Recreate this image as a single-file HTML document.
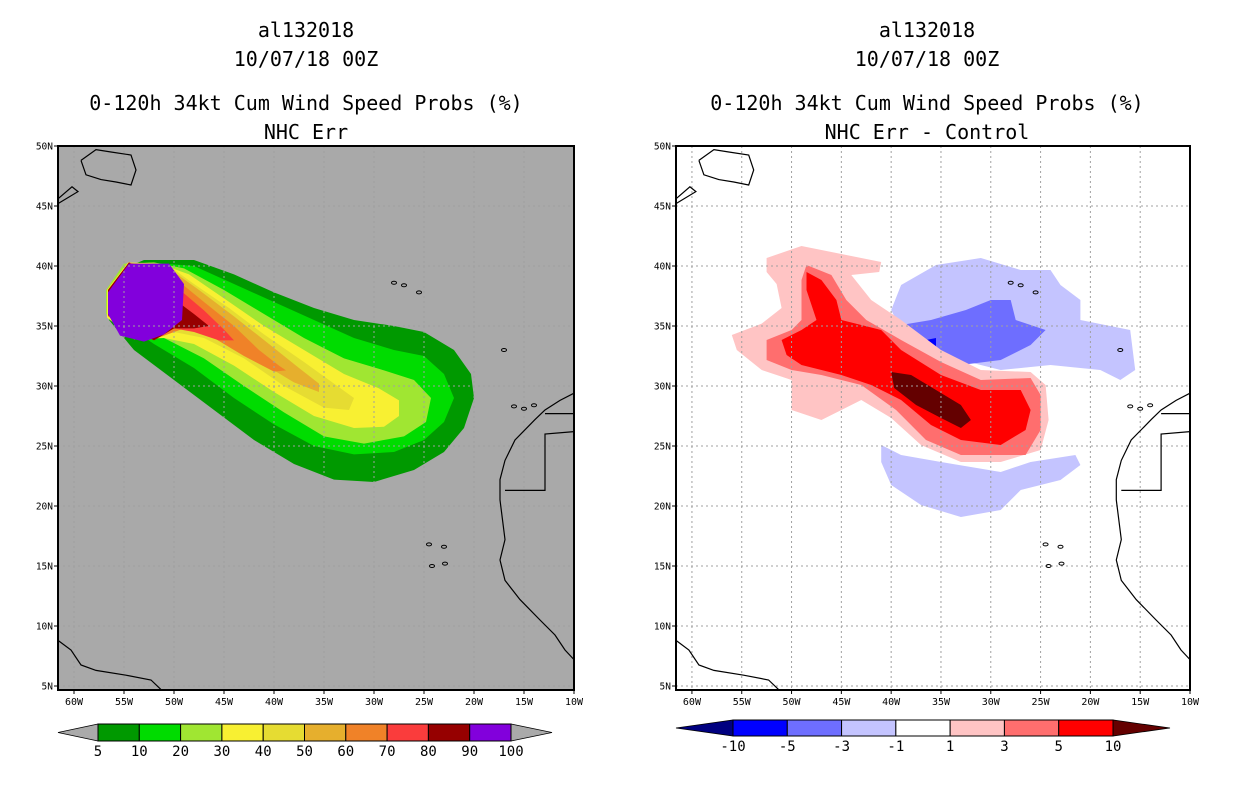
<!DOCTYPE html>
<html><head><meta charset="utf-8"><style>
body{margin:0;background:#fff}
svg text{font-family:"DejaVu Sans Mono","Liberation Mono",monospace}
</style></head><body>
<svg id="s" width="1236" height="800" xmlns="http://www.w3.org/2000/svg"></svg>
<script>
// ---- data (lon in degrees W, lat in degrees N) ----
const leftLevels = [5,10,20,30,40,50,60,70,80,90,100];
const leftColors = ["#009900","#00dc00","#a0e632","#f8f032","#e6dc32","#e6af2d","#f08228","#fa3c3c","#960000","#8200dc"];
const leftC5  = [[53,40.5],[48,40.5],[44,39.3],[40,37.8],[36,36.5],[32,35.5],[28,35],[25,34.5],[22,33],[20.3,31],[20,29],[21,26.5],[23,24.5],[26,23],[30,22],[34,22.2],[38,23.5],[42,25.5],[46,28],[50,30.5],[54,33],[56.5,35.5],[56.8,37.5],[55,39.8]];
const leftC10 = [[52.5,40.3],[48,40],[44,38.5],[40,37],[36,35.5],[32,34],[28,33],[25,32.5],[23,31],[22,29],[23,27],[25,25.5],[28,24.5],[32,24.3],[36,25],[40,26.8],[44,29],[48,31.5],[52,33.5],[55.5,35.5],[56.8,37.5],[55,39.9]];
const leftC20 = [[52,40.3],[49,39.8],[45,38],[41,36],[37,34],[33,32.3],[29,31.3],[26,30.5],[24.3,29],[24.8,27],[27,25.8],[31,25.2],[35,25.8],[39,27.8],[43,30],[47,32.3],[51,34],[54,34.3],[56.8,36],[56.8,38],[55,40.2]];
const leftC30 = [[51.5,40.2],[48.5,39.3],[45,37.3],[41,35],[37,33],[33,31],[29.5,29.8],[27.5,28.8],[27.5,27.5],[29,26.6],[32,26.5],[36,27.5],[40,29.5],[44,31.7],[48,33.5],[51,34],[54,33.9],[56.7,35.7],[56.7,38],[54.6,40.3]];
const leftC40 = [[50.5,40],[48,38.5],[44.5,36.5],[41,34.3],[37,32],[34,30.2],[32,29],[32.5,28],[35,28.2],[39,30],[43,32.3],[47,34],[50,34.5],[53,33.8],[56.6,35.8],[56.6,38],[54.5,40.3]];
const leftC50 = [[50,39.5],[47.5,38],[44,35.8],[40.5,33.5],[37.5,31.5],[35.5,30.2],[35.5,29.5],[38,30.3],[41,31.8],[45,33.8],[49,34.8],[52,33.9],[56.6,35.8],[56.6,38],[54.5,40.3]];
const leftC60 = [[49.5,38.7],[47,37],[44,35],[41.5,33],[39.5,31.7],[38.8,31.3],[40,31.2],[43,32.5],[46,34],[49,34.8],[52,33.9],[56.6,35.8],[56.6,38],[54.5,40.3]];
const leftC70 = [[49.4,38],[47,36.3],[45,34.7],[44,33.8],[45.5,33.8],[48,34.5],[50,34.8],[52,33.8],[56.6,35.9],[56.6,38],[54.5,40.3]];
const leftC80 = [[49.6,37],[48,36],[46.5,35],[48,34.8],[50,34.8],[52,33.8],[56.6,35.9],[56.6,38],[54.5,40.3]];
const leftC90 = [[56.6,37.8],[56.6,36],[55.4,34.2],[53,33.7],[51,34.3],[49.2,35.5],[49,38.5],[50.5,40.2],[54.5,40.2]];
const rightLevels = ["-10","-5","-3","-1","1","3","5","10"];
const rightColors = ["#000080","#0000ff","#6e6eff","#c4c4ff","#ffffff","#ffc4c4","#ff6e6e","#ff0000","#640000"];
const rPink = [[52.5,40.67],[49,41.67],[46,41.17],[41,40.33],[41.2,39.5],[44,39.25],[42,37.17],[39,35.5],[35,33],[31,31.33],[26,31.17],[24.5,30.08],[24.2,27.17],[25,24.67],[29,23.67],[33,23.67],[37,25.08],[40,27.33],[43,28.83],[45,28],[47,27.17],[50,28],[50,30.5],[53,31.33],[55.5,33],[56,34.25],[53,35.2],[51,36.5],[51.5,38.5],[52.5,39.5]];
const rSalmon = [[48.5,40.08],[46,39.25],[44.5,37.17],[42.5,35.5],[39,33.83],[35,32],[31,30.5],[26,30.67],[25,29.25],[25,26.33],[26.5,24.25],[33,24.25],[36.5,25.5],[39.5,28],[43,30.08],[47,30.92],[50,31.33],[52.5,32.17],[52.5,33.83],[50,34.67],[49,35.5],[49,38.83]];
const rRed = [[48.5,39.5],[47,38.83],[45.5,37.17],[45,35.5],[41,34.67],[39,33],[35,30.92],[31,29.67],[27,29.67],[26,28],[26.5,26.33],[29,25.08],[33,25.5],[36,26.75],[39,28.83],[42,30.08],[45,30.92],[49,31.75],[50.5,32.58],[51,33.83],[49,34.67],[47.5,35.5],[48.5,38]];
const rDark = [[40,31.17],[38,30.92],[35.5,29.67],[33,28.42],[32,27.17],[33,26.5],[35,27.33],[37.5,28.42],[39.7,29.83]];
const rBlueTop = [[39,38.42],[35.5,40.08],[31,40.67],[27,39.67],[24,39.67],[23,38.42],[21,37.17],[21,35.5],[16,34.67],[15.5,31.33],[17,30.5],[19,31.33],[24,31.75],[29,31.33],[33,32.17],[36,33.42],[39,34.67],[40,36.33]];
const rBlueMid = [[39,35.08],[36,35.5],[32.5,36.33],[30,37.17],[28,37.17],[27.5,35.5],[24.5,34.67],[26,33.42],[29,32.17],[33,31.75],[35.5,32.17],[38,33.42]];
const rBlueDeep = [[36.5,33.83],[35.5,34],[35.5,33],[36.5,32.83]];
const rBlueLow = [[41,25.08],[39,24.25],[35,23.67],[29,22.83],[26,23.67],[21.5,24.25],[21,23.42],[23,22.17],[27,21.33],[29,19.67],[33,19.08],[37,20.08],[40,21.75],[41,23.67]];
const africa = [[10,29.4],[11.4,28.8],[12.9,28],[13.9,27.2],[15.9,25.5],[16.9,23.8],[17.4,22.2],[17.4,20.5],[16.9,17.2],[17.4,15.5],[16.9,13.8],[15.4,12.2],[13.4,10.5],[11.9,9.25],[10.9,8],[10,7.2]];
const border1 = [[16.9,21.3],[12.9,21.3],[12.9,26],[10,26.2]];
const border2 = [[12.9,27.7],[10,27.7]];
const samerica = [[61.6,8.8],[60.3,8],[59.3,6.75],[57.8,6.3],[54.8,5.9],[52.3,5.5],[51.3,4.7]];
const newfoundland = [[59.3,48.8],[57.8,49.7],[56.3,49.5],[54.3,49.25],[53.8,48],[54.3,46.75],[55.8,47],[57.3,47.2],[58.8,47.6],[59.3,48.8]];
const novascotia = [[61.6,45.6],[60.2,46.6],[59.6,46.2],[61.6,45.2]];
const islands = [[28,38.6],[27,38.4],[25.5,37.8],[17,33],[16,28.3],[15,28.1],[14,28.4],[23,16.6],[24.5,16.8],[22.9,15.2],[24.2,15]];
const lonTicks = [60,55,50,45,40,35,30,25,20,15,10];
const latTicks = [5,10,15,20,25,30,35,40,45,50];

const NS="http://www.w3.org/2000/svg";
const svg=document.getElementById('s');
function mk(t,a,p){const e=document.createElementNS(NS,t);for(const k in a)e.setAttribute(k,a[k]);(p||svg).appendChild(e);return e;}
function panel(x0,x1,pname){
  const top=146,bot=690;
  const X=w=>x1-(w-10)*(x1-x0)/51.6;
  const Y=l=>686-(l-5)*12;
  const g=mk('g',{});
  
  
  return {g,X,Y,top,bot,x0,x1};
}
function poly(P,pts,fill,name,closed){
  const d=pts.map((p,i)=>(i?'L':'M')+P.X(p[0]).toFixed(1)+' '+P.Y(p[1]).toFixed(1)).join(' ')+(closed?' Z':'');
  const e=mk('path',{d:d,fill:closed?fill:'none',stroke:closed?'none':'#000','stroke-width':closed?0:1.2},P.g);
  
  
  return e;
}
function frame(P){
  // grid
  lonTicks.forEach(w=>{const l=mk('line',{x1:P.X(w),x2:P.X(w),y1:P.top,y2:P.bot,stroke:'#a0a0a0','stroke-dasharray':'2,3'},P.g);
    });
  latTicks.forEach(l0=>{const l=mk('line',{x1:P.x0,x2:P.x1,y1:P.Y(l0),y2:P.Y(l0),stroke:'#a0a0a0','stroke-dasharray':'2,3'},P.g);
    });
  poly(P,africa,'','coastline-africa',false);
  poly(P,border1,'','border',false);
  poly(P,border2,'','border',false);
  poly(P,samerica,'','coastline-south-america',false);
  poly(P,newfoundland,'','coastline-newfoundland',false);
  poly(P,novascotia,'','coastline-nova-scotia',false);
  islands.forEach(p=>{const c=mk('ellipse',{cx:P.X(p[0]),cy:P.Y(p[1]),rx:2.5,ry:1.5,fill:'none',stroke:'#000'},P.g);
    });
  const r=mk('rect',{x:P.x0,y:P.top,width:P.x1-P.x0,height:P.bot-P.top,fill:'none',stroke:'#000','stroke-width':2},P.g);
  
  lonTicks.forEach(w=>{
    mk('line',{x1:P.X(w),x2:P.X(w),y1:P.bot,y2:P.bot+4,stroke:'#000'},P.g);
    const t=mk('text',{x:P.X(w),y:P.bot+15,'font-size':10,'text-anchor':'middle'},P.g);t.textContent=w+'W';
    
  });
  latTicks.forEach(l0=>{
    mk('line',{x1:P.x0-4,x2:P.x0,y1:P.Y(l0),y2:P.Y(l0),stroke:'#000'},P.g);
    const t=mk('text',{x:P.x0-5,y:P.Y(l0)+3.5,'font-size':9.5,'text-anchor':'end'},P.g);t.textContent=l0+'N';
    
  });
}
function title(cx,lines){
  const ys=[37,66,110,139];
  lines.forEach((s,i)=>{const t=mk('text',{x:cx,y:ys[i],'font-size':20,'text-anchor':'middle'});t.textContent=s;
    });
}
// left panel
const L=panel(58,574,'left-map');
const bg=mk('rect',{x:58,y:146,width:516,height:544,fill:'#a9a9a9'},L.g);

[leftC5,leftC10,leftC20,leftC30,leftC40,leftC50,leftC60,leftC70,leftC80,leftC90].forEach((c,i)=>poly(L,c,leftColors[i],'contour-'+leftLevels[i],true));
frame(L);
title(306,['al132018','10/07/18 00Z','0-120h 34kt Cum Wind Speed Probs (%)','NHC Err']);
// right panel
const R=panel(676,1190,'right-map');
const bg2=mk('rect',{x:676,y:146,width:514,height:544,fill:'#fff'},R.g);

poly(R,rBlueTop,rightColors[3],'contour-neg1-north',true);
poly(R,rBlueMid,rightColors[2],'contour-neg3',true);
poly(R,rBlueDeep,rightColors[1],'contour-neg5',true);
poly(R,rBlueLow,rightColors[3],'contour-neg1-south',true);
poly(R,rPink,rightColors[5],'contour-1',true);
poly(R,rSalmon,rightColors[6],'contour-3',true);
poly(R,rRed,rightColors[7],'contour-5',true);
poly(R,rDark,rightColors[8],'contour-10',true);
frame(R);
title(927,['al132018','10/07/18 00Z','0-120h 34kt Cum Wind Speed Probs (%)','NHC Err - Control']);
// colorbars
function colorbar(xa,xb,tipL,tipR,y0,y1,colors,labels,lowTip,highTip,name){
  const g=mk('g',{});
  const n=labels.length-1+(lowTip?0:0);
  const boxes=colors.length-(lowTip?1:0)-(highTip?1:0);
  const w=(xb-xa)/boxes;const ym=(y0+y1)/2;
  const lt=mk('polygon',{points:`${tipL},${ym} ${xa},${y0} ${xa},${y1}`,fill:lowTip||'#aaa',stroke:'#000','stroke-width':0.8},g);
  
  const rt=mk('polygon',{points:`${tipR},${ym} ${xb},${y0} ${xb},${y1}`,fill:highTip||'#aaa',stroke:'#000','stroke-width':0.8},g);
  
  const off=lowTip?1:0;
  for(let i=0;i<boxes;i++){const r=mk('rect',{x:xa+i*w,y:y0,width:w,height:y1-y0,fill:colors[i+off],stroke:'#000','stroke-width':1},g);
    }
  labels.forEach((s,i)=>{const t=mk('text',{x:xa+i*w,y:y1+15,'font-size':14,'text-anchor':'middle'},g);t.textContent=s;
    });
}
colorbar(98,511,58,552,724,741,leftColors,leftLevels.map(String),null,null,'left-colorbar');
colorbar(733,1113,676,1170,720,736,rightColors,rightLevels,rightColors[0],rightColors[8],'right-colorbar');
</script>
</body></html>
